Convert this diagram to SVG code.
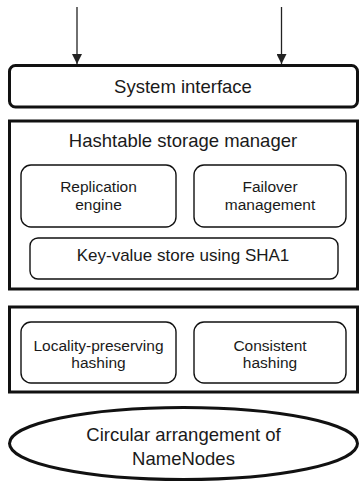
<svg xmlns="http://www.w3.org/2000/svg" width="360" height="483" viewBox="0 0 360 483">
<defs>
<marker id="ah" viewBox="0 0 10 10" refX="10" refY="5" markerWidth="10" markerHeight="10" markerUnits="userSpaceOnUse" orient="auto">
<path d="M0,0 L10,5 L0,10 Z" fill="#222"/>
</marker>
<style>
.thick{fill:#fff;stroke:#111;stroke-width:3}
.inner{fill:#fff;stroke:#111;stroke-width:1.4}
.t{font-family:"Liberation Sans",Arial,Helvetica,sans-serif;fill:#1a1a1a;text-anchor:middle}
.big{font-size:18.5px}
.mid{font-size:17px}
.sm{font-size:15.5px}
</style>
</defs>
<rect width="360" height="483" fill="#fff"/>
<g id="connectors">
<line x1="77" y1="7" x2="77" y2="64" stroke="#222" stroke-width="1.3" marker-end="url(#ah)"/>
<line x1="281.5" y1="7" x2="281.5" y2="64" stroke="#222" stroke-width="1.3" marker-end="url(#ah)"/>
</g>
<g id="system-interface">
<rect class="thick" x="9.5" y="65.5" width="348" height="41.5" rx="6"/>
<text class="t big" x="183" y="92.5">System interface</text>
</g>
<g id="hashtable-storage-manager">
<rect class="thick" x="9.5" y="121" width="348" height="168"/>
<text class="t big" x="183" y="147">Hashtable storage manager</text>
</g>
<g id="replication-engine">
<rect class="inner" x="21" y="165" width="155" height="62" rx="10"/>
<text class="t sm" x="98.5" y="192">Replication</text>
<text class="t sm" x="98.5" y="210">engine</text>
</g>
<g id="failover-management">
<rect class="inner" x="194" y="165" width="152" height="62" rx="10"/>
<text class="t sm" x="270" y="192">Failover</text>
<text class="t sm" x="270" y="210">management</text>
</g>
<g id="key-value-store">
<rect class="inner" x="30" y="238" width="308" height="41" rx="8"/>
<text class="t mid" x="183" y="261">Key-value store using SHA1</text>
</g>
<g id="hashing-layer">
<rect class="thick" x="9.5" y="307" width="348" height="85"/>
</g>
<g id="locality-preserving-hashing">
<rect class="inner" x="21" y="322" width="155" height="61" rx="10"/>
<text class="t sm" x="98.5" y="351">Locality-preserving</text>
<text class="t sm" x="98.5" y="368">hashing</text>
</g>
<g id="consistent-hashing">
<rect class="inner" x="194" y="322" width="152" height="61" rx="10"/>
<text class="t sm" x="270" y="351">Consistent</text>
<text class="t sm" x="270" y="368">hashing</text>
</g>
<g id="circular-arrangement">
<ellipse cx="183.5" cy="443.5" rx="174" ry="36" fill="#fff" stroke="#111" stroke-width="3"/>
<text class="t big" x="183.5" y="441">Circular arrangement of</text>
<text class="t big" x="183.5" y="465">NameNodes</text>
</g>
</svg>
